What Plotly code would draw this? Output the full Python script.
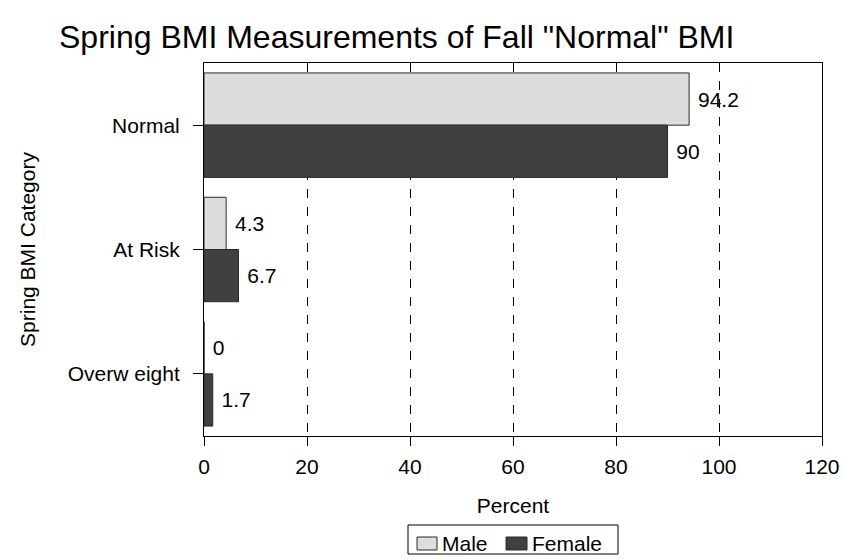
import plotly.graph_objects as go

# Spring BMI category distribution for students with a "Normal" fall BMI
categories = ["Normal", "At Risk", "Overw eight"]
male_pct = [94.2, 4.3, 0]
female_pct = [90, 6.7, 1.7]
x_ticks = [0, 20, 40, 60, 80, 100, 120]
series_names = ["Male", "Female"]
series_colors = ["#DDDDDD", "#404040"]

font_family = "Liberation Sans, Arial, sans-serif"
FS = 21

fig = go.Figure()
for name, vals, col in zip(series_names, [male_pct, female_pct], series_colors):
    fig.add_trace(go.Bar(
        name=name, y=categories, x=vals, orientation="h",
        marker=dict(color=col, line=dict(color="#2a2a2a", width=1)),
        text=[f"\u00a0{v:g}" for v in vals], textposition="outside",
        textfont=dict(size=FS, color="black", family=font_family),
        cliponaxis=False, showlegend=False,
    ))

# invisible trace so the top tick axis is drawn
fig.add_trace(go.Scatter(x=[0, 120], y=["Normal", "Normal"], xaxis="x2",
                         mode="markers", marker=dict(opacity=0),
                         showlegend=False, hoverinfo="skip"))

fig.update_layout(
    width=844, height=560,
    margin=dict(l=204, r=22, t=63, b=124, autoexpand=False),
    paper_bgcolor="white", plot_bgcolor="white",
    font=dict(family=font_family, size=FS, color="black"),
    barmode="group", bargap=0.16, bargroupgap=0,
    title=dict(text='Spring BMI Measurements of Fall "Normal" BMI',
               font=dict(size=32, color="black"),
               x=0.470, xanchor="center", y=0.934, yanchor="middle"),
    xaxis=dict(
        range=[0, 120], tickvals=x_ticks, ticks="outside", ticklen=9,
        tickcolor="black", showline=True, linecolor="black", linewidth=1,
        mirror=True, showgrid=True, gridcolor="black", griddash="dash",
        gridwidth=1, zeroline=False, ticklabelstandoff=3, automargin=False,
        title=dict(text="Percent", font=dict(size=FS), standoff=21),
    ),
    xaxis2=dict(
        overlaying="x", side="top", matches="x", range=[0, 120],
        tickvals=x_ticks, ticks="inside", ticklen=3, tickcolor="black",
        showticklabels=False, showgrid=False, zeroline=False,
        showline=False, automargin=False,
    ),
    yaxis=dict(
        autorange="reversed", ticks="outside", ticklen=10,
        tickcolor="black", showline=True, linecolor="black", linewidth=1,
        mirror=True, showgrid=False, zeroline=False, ticklabelstandoff=9,
        automargin=False,
        title=dict(text="Spring BMI Category", font=dict(size=FS), standoff=26),
    ),
    showlegend=False,
)

# Legend box drawn in paper coordinates
shapes = [dict(type="rect", xref="paper", yref="paper",
               x0=0.3301, x1=0.6699, y0=-0.2386, y1=-0.3164,
               line=dict(color="black", width=1), fillcolor="white")]
sym_x = [(0.3447, 0.3770), (0.4887, 0.5227)]
txt_x = [0.3819, 0.5275]
annotations = []
for (x0, x1), tx, name, col in zip(sym_x, txt_x, series_names, series_colors):
    shapes.append(dict(type="rect", xref="paper", yref="paper",
                       x0=x0, x1=x1, y0=-0.2708, y1=-0.3056,
                       line=dict(color="#2a2a2a", width=1), fillcolor=col))
    annotations.append(dict(text=name, xref="paper", yref="paper",
                            x=tx, y=-0.2882, xanchor="left", yanchor="middle",
                            showarrow=False, font=dict(size=FS)))
fig.update_layout(shapes=shapes, annotations=annotations)

fig.write_html("out.html")
